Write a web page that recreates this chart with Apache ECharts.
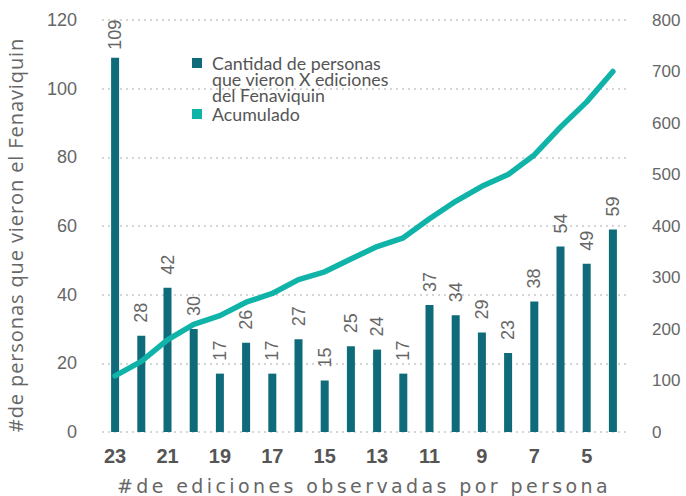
<!DOCTYPE html>
<html>
<head>
<meta charset="utf-8">
<script src="https://cdn.jsdelivr.net/npm/echarts@6/dist/echarts.min.js"></script>
<style>
  html, body { margin: 0; padding: 0; background: #fff; }
  #chart { width: 686px; height: 496px; }
  /* axis titles are set spaced out */
  #chart svg text[style*="DejaVu"] { letter-spacing: 3.4px; }
  #chart svg text[style*="Open Sans"] { letter-spacing: 0.9px; }
</style>
</head>
<body>
<div id="chart"></div>
<script>
// Number of festival editions watched (x) and people per edition count
const categories = ['23','22','21','20','19','18','17','16','15','14','13','12','11','10','9','8','7','6','5','4'];
const personas = [109, 28, 42, 30, 17, 26, 17, 27, 15, 25, 24, 17, 37, 34, 29, 23, 38, 54, 49, 59];
const acumulado = [109, 137, 179, 209, 226, 252, 269, 296, 311, 336, 360, 377, 414, 448, 477, 500, 538, 592, 641, 700];

const barColor = '#0f6a7a';
const lineColor = '#10b3a8';
const textGray = '#666666';
const barName = 'Cantidad de personas\nque vieron X ediciones\ndel Fenaviquin';
const lineName = 'Acumulado';

// tall bars keep their value label a bit closer so it stays inside the plot
const barData = personas.map(v => (v > 100 ? { value: v, label: { distance: 8 } } : v));

const chart = echarts.init(document.getElementById('chart'), null, { renderer: 'svg' });
chart.setOption({
  animation: false,
  backgroundColor: '#ffffff',
  grid: { left: 102, right: 60, top: 20, bottom: 64, containLabel: false, outerBoundsMode: 'none' },
  legend: {
    orient: 'vertical',
    left: 192,
    top: 22,
    padding: 0,
    itemWidth: 10,
    itemHeight: 10,
    itemGap: 1,
    // two leading blank lines put the swatch beside the first line of the wrapped name
    formatter: name => (name === barName ? '\n\n' + name : name),
    textStyle: { fontFamily: 'Lato, sans-serif', fontSize: 17.8, color: '#555', lineHeight: 16, padding: [0, 0, 0, 5] },
    data: [
      { name: barName, icon: 'rect' },
      { name: lineName, icon: 'rect' }
    ]
  },
  xAxis: {
    type: 'category',
    data: categories,
    axisLine: { show: false },
    axisTick: { show: false },
    axisLabel: {
      interval: 1,
      fontFamily: 'Liberation Sans, Arial, sans-serif',
      fontWeight: 'bold',
      fontSize: 20,
      color: '#555',
      margin: 14
    },
    name: '#de ediciones observadas por persona',
    nameLocation: 'middle',
    nameGap: 44,
    nameTextStyle: { fontFamily: 'DejaVu Sans, sans-serif', fontSize: 19, color: textGray }
  },
  yAxis: [
    {
      type: 'value',
      min: 0, max: 120, interval: 20,
      axisLine: { show: false },
      axisTick: { show: false },
      axisLabel: { fontFamily: 'Liberation Sans, Arial, sans-serif', fontSize: 18, color: textGray, margin: 25 },
      splitLine: { lineStyle: { type: [2, 4], color: '#c8c8c8', width: 1.5 } },
      name: '#de personas que vieron el Fenaviquin',
      nameLocation: 'middle',
      nameRotate: 90,
      nameGap: 77,
      nameTextStyle: { fontFamily: 'Open Sans, sans-serif', fontSize: 20, color: textGray, padding: [0, 18, 0, 0] }
    },
    {
      type: 'value',
      min: 0, max: 800, interval: 100,
      position: 'right',
      axisLine: { show: false },
      axisTick: { show: false },
      splitLine: { show: false },
      axisLabel: { fontFamily: 'Liberation Sans, Arial, sans-serif', fontSize: 17, color: textGray, margin: 26 }
    }
  ],
  series: [
    {
      name: barName,
      type: 'bar',
      data: barData,
      barWidth: 8,
      itemStyle: { color: barColor },
      label: {
        show: true,
        position: 'top',
        rotate: 90,
        align: 'left',
        verticalAlign: 'middle',
        distance: 13,
        fontFamily: 'Liberation Sans, Arial, sans-serif',
        fontSize: 18,
        color: textGray
      }
    },
    {
      name: lineName,
      type: 'line',
      yAxisIndex: 1,
      data: acumulado,
      showSymbol: false,
      symbol: 'none',
      itemStyle: { color: lineColor },
      lineStyle: { color: lineColor, width: 5.5, cap: 'round', join: 'round' }
    }
  ]
});
</script>
</body>
</html>
